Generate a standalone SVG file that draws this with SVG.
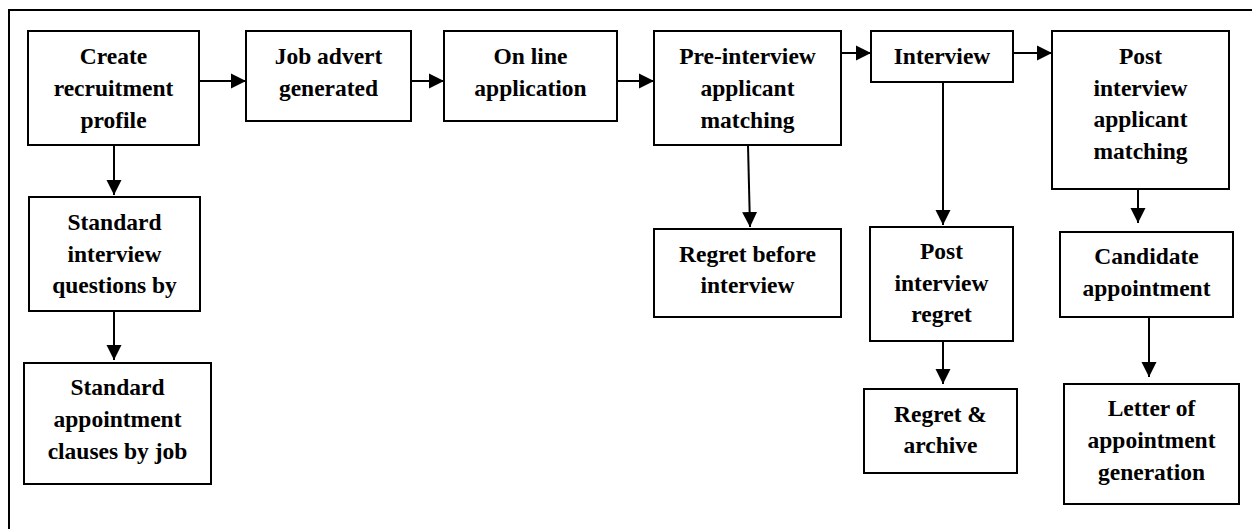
<svg xmlns="http://www.w3.org/2000/svg" width="1252" height="529" viewBox="0 0 1252 529">
  <style>
    .box { fill: #ffffff; stroke: #000000; stroke-width: 2; }
    .frame { fill: none; stroke: #000000; stroke-width: 2; }
    .link { fill: none; stroke: #000000; stroke-width: 2; marker-end: url(#arrow); }
    text { font-family: "Liberation Serif", "Times New Roman", serif; font-weight: bold; font-size: 23.5px; fill: #000000; text-anchor: middle; }
  </style>
  <defs>
    <marker id="arrow" markerUnits="userSpaceOnUse" markerWidth="16" markerHeight="16" viewBox="0 0 16 16" refX="15" refY="8" orient="auto">
      <path d="M0,0.5 L15,8 L0,15.5 Z" fill="#000000"/>
    </marker>
  </defs>

  <rect width="1252" height="529" fill="#ffffff"/>
  <!-- page frame running off the right and bottom edges -->
  <path class="frame" d="M9,531 V10 H1254"/>

  <g id="connectors">
    <line class="link" x1="199" y1="81" x2="246" y2="81"/>
    <line class="link" x1="411" y1="81" x2="444" y2="81"/>
    <line class="link" x1="617" y1="81" x2="654" y2="81"/>
    <line class="link" x1="841" y1="53" x2="871" y2="53"/>
    <line class="link" x1="1013" y1="53" x2="1052" y2="53"/>
    <line class="link" x1="114" y1="145" x2="114" y2="195"/>
    <line class="link" x1="114" y1="311" x2="114" y2="360"/>
    <line class="link" x1="748" y1="145" x2="750" y2="227"/>
    <line class="link" x1="943" y1="82" x2="943" y2="225"/>
    <line class="link" x1="943" y1="341" x2="943" y2="384"/>
    <line class="link" x1="1138" y1="189" x2="1138" y2="223"/>
    <line class="link" x1="1149" y1="317" x2="1149" y2="377"/>
  </g>

  <g id="create-profile">
    <rect class="box" x="28" y="31" width="171" height="114"/>
    <text x="113.5" y="64">Create</text>
    <text x="113.5" y="96">recruitment</text>
    <text x="113.5" y="128">profile</text>
  </g>

  <g id="job-advert">
    <rect class="box" x="246" y="31" width="165" height="90"/>
    <text x="328.5" y="64">Job advert</text>
    <text x="328.5" y="96">generated</text>
  </g>

  <g id="online-application">
    <rect class="box" x="444" y="31" width="173" height="90"/>
    <text x="530.5" y="64">On line</text>
    <text x="530.5" y="96">application</text>
  </g>

  <g id="pre-interview-matching">
    <rect class="box" x="654" y="31" width="187" height="114"/>
    <text x="747.5" y="64">Pre-interview</text>
    <text x="747.5" y="96">applicant</text>
    <text x="747.5" y="128">matching</text>
  </g>

  <g id="interview">
    <rect class="box" x="871" y="31" width="142" height="51"/>
    <text x="942" y="64">Interview</text>
  </g>

  <g id="post-interview-matching">
    <rect class="box" x="1052" y="31" width="177" height="158"/>
    <text x="1140.5" y="63.5">Post</text>
    <text x="1140.5" y="95.5">interview</text>
    <text x="1140.5" y="127">applicant</text>
    <text x="1140.5" y="158.5">matching</text>
  </g>

  <g id="standard-questions">
    <rect class="box" x="29" y="197" width="171" height="114"/>
    <text x="114.5" y="230">Standard</text>
    <text x="114.5" y="262">interview</text>
    <text x="114.5" y="293">questions by</text>
  </g>

  <g id="standard-clauses">
    <rect class="box" x="24" y="363" width="187" height="121"/>
    <text x="117.5" y="395">Standard</text>
    <text x="117.5" y="427">appointment</text>
    <text x="117.5" y="459">clauses by job</text>
  </g>

  <g id="regret-before-interview">
    <rect class="box" x="654" y="229" width="187" height="88"/>
    <text x="747.5" y="262">Regret before</text>
    <text x="747.5" y="293">interview</text>
  </g>

  <g id="post-interview-regret">
    <rect class="box" x="870" y="227" width="143" height="114"/>
    <text x="941.5" y="259">Post</text>
    <text x="941.5" y="291">interview</text>
    <text x="941.5" y="322">regret</text>
  </g>

  <g id="regret-archive">
    <rect class="box" x="864" y="389" width="153" height="84"/>
    <text x="940.5" y="422">Regret &amp;</text>
    <text x="940.5" y="453">archive</text>
  </g>

  <g id="candidate-appointment">
    <rect class="box" x="1060" y="232" width="173" height="85"/>
    <text x="1146.5" y="264">Candidate</text>
    <text x="1146.5" y="296">appointment</text>
  </g>

  <g id="letter-of-appointment">
    <rect class="box" x="1064" y="384" width="175" height="120"/>
    <text x="1151.5" y="416">Letter of</text>
    <text x="1151.5" y="448">appointment</text>
    <text x="1151.5" y="480">generation</text>
  </g>
</svg>
